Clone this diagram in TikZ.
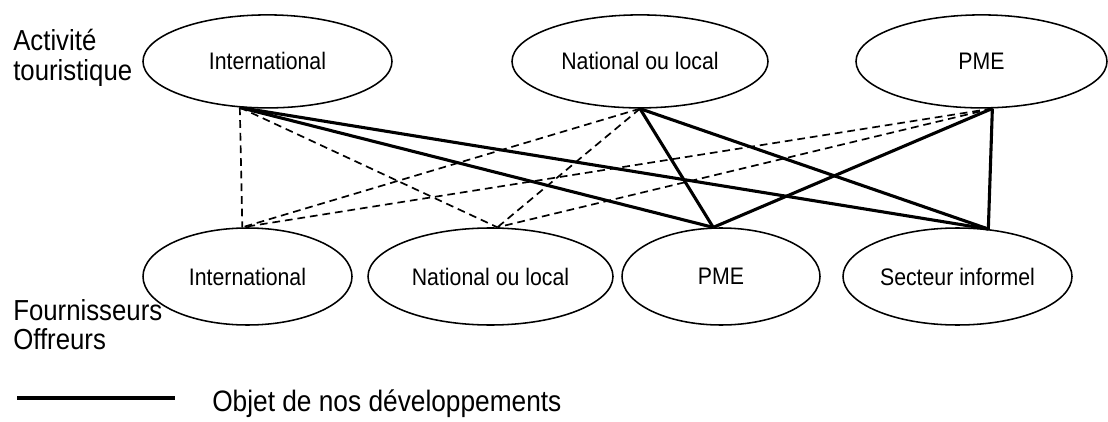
\documentclass[tikz,border=0pt]{standalone}
\usepackage{fontspec}
\setmainfont{Liberation Sans}[FakeStretch=0.89]
\usetikzlibrary{shapes.geometric}
\begin{document}
\begin{tikzpicture}
    [
        oval/.style = {draw, shape=ellipse, inner sep=0pt, line width=1.1pt, font=\fontsize{17}{20}\selectfont},
        side/.style = {anchor=west, inner sep=0pt, font=\fontsize{20.6}{21.3}\selectfont},
        main/.style = {line width=2.2pt},
        other/.style = {dash pattern=on 5.5pt off 3.5pt, line width=1.2pt},
    ]
    \useasboundingbox (0,0) rectangle (27.7,10.525);

    \node[side] (act) at (0.325,9.05) {\begin{tabular}{@{}l@{}}Activité\\touristique\end{tabular}};
    \node[side] (four) at (0.325,2.3) {\begin{tabular}{@{}l@{}}Fournisseurs\\Offreurs\end{tabular}};

    % activite touristique
    \node[oval, minimum width=6.225cm, minimum height=2.325cm] (t0) at (6.6875,8.99)  {International};
    \node[oval, minimum width=6.4cm,   minimum height=2.325cm] (t1) at (16.0,8.99)    {National ou local};
    \node[oval, minimum width=6.275cm, minimum height=2.325cm] (t2) at (24.5375,8.99) {PME};

    % fournisseurs
    \node[oval, minimum width=5.225cm, minimum height=2.425cm] (b0) at (6.1875,3.6125)  {International};
    \node[oval, minimum width=6.125cm, minimum height=2.425cm] (b1) at (12.2625,3.6125) {National ou local};
    \node[oval, minimum width=4.95cm,  minimum height=2.425cm] (b2) at (18.025,3.6125)  {PME};
    \node[oval, minimum width=5.725cm, minimum height=2.425cm] (b3) at (23.9375,3.6125) {Secteur informel};

    \draw [other] (t0.239) -- (b0.96);
    \draw [other] (t0.239) -- (b1.82);
    \draw [main]  (t0.239) -- (b2.99);
    \draw [main]  (t0.239) -- (b3.57);

    \draw [other] (t1.south) -- (b0.96);
    \draw [other] (t1.south) -- (b1.82);
    \draw [main]  (t1.south) -- (b2.99);
    \draw [main]  (t1.south) -- (b3.57);

    \draw [other] (t2.283) -- (b0.96);
    \draw [other] (t2.283) -- (b1.82);
    \draw [main]  (t2.283) -- (b2.99);
    \draw [main]  (t2.283) -- (b3.57);

    % legende
    \coordinate (l0) at (0.425,0.575);
    \coordinate (l1) at (4.375,0.575);
    \draw [main] (l0) -- (l1);
    \node[side, font=\fontsize{21}{22}\selectfont] (leg) at (5.3,0.425) {Objet de nos développements};

\end{tikzpicture}
\end{document}
